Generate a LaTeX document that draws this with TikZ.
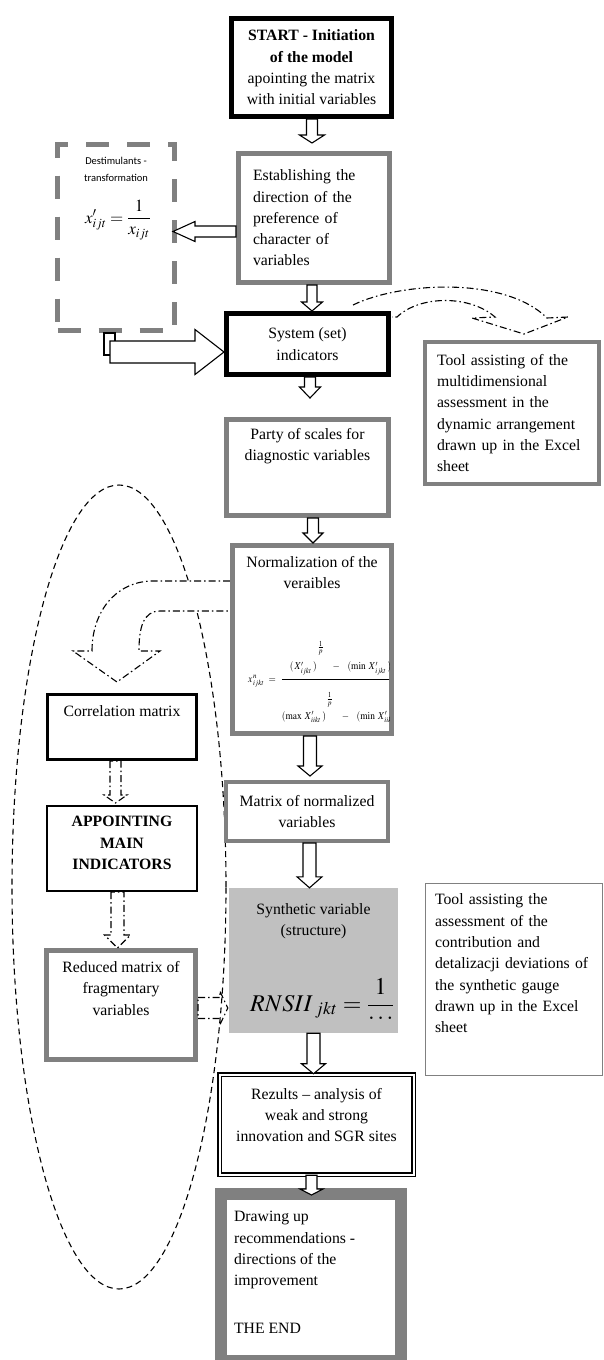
\documentclass[tikz,border=0pt]{standalone}
\usepackage{amsmath}
\usepackage{mathptmx}
\usepackage{fontspec}
\setmainfont{Liberation Serif}
\newfontfamily\calibri{Carlito}
\usetikzlibrary{calc,positioning}

\definecolor{boxgray}{RGB}{128,128,128}
\definecolor{synthgray}{RGB}{192,192,192}

% hollow block arrows between two anchors
\newcommand{\arrdown}[6][hollow]{\draw[#1] let \p1=(#2), \p2=(#3) in
  (\x1-#4,\y1) -- (\x1-#4,\y2+#6) -- (\x1-#5,\y2+#6) -- (\x1,\y2)
  -- (\x1+#5,\y2+#6) -- (\x1+#4,\y2+#6) -- (\x1+#4,\y1) -- cycle;}
\newcommand{\arrright}[6][hollow]{\draw[#1] let \p1=(#2), \p2=(#3) in
  (\x1,\y1+#4) -- (\x2-#6,\y1+#4) -- (\x2-#6,\y1+#5) -- (\x2,\y1)
  -- (\x2-#6,\y1-#5) -- (\x2-#6,\y1-#4) -- (\x1,\y1-#4) -- cycle;}
\newcommand{\arrleft}[6][hollow]{\draw[#1] let \p1=(#2), \p2=(#3) in
  (\x1,\y1+#4) -- (\x2+#6,\y1+#4) -- (\x2+#6,\y1+#5) -- (\x2,\y1)
  -- (\x2+#6,\y1-#5) -- (\x2+#6,\y1-#4) -- (\x1,\y1-#4) -- cycle;}
% raised exponents of the normalization formula
\newcommand{\rtn}{^{\raisebox{10pt}{$\frac{1}{p}$}}}
\newcommand{\rtd}{^{\raisebox{9pt}{$\frac{1}{p}$}}}

\tikzset{
  every node/.style={font=\fontsize{15.75pt}{21.3pt}\selectfont},
  box/.style={rectangle, fill=white, inner sep=0pt},
  blackbox/.style={box, draw=black},
  graybox/.style={box, draw=boxgray},
  hollow/.style={draw=black, fill=white, line width=1.1pt, line join=miter},
  dashdot/.style={draw=black, line width=1.1pt, dash pattern=on 7pt off 3pt on 1.5pt off 3pt},
  ovaldash/.style={draw=black, line width=1.1pt, dash pattern=on 6pt off 4pt},
}

\begin{document}
\begin{tikzpicture}[x=1pt,y=-1pt]
\useasboundingbox (0,0) rectangle (604,1360);

% loop round the reduction of variables
\draw[ovaldash] (119,887) ellipse [x radius=107pt, y radius=402pt];

% curved links
\draw[dashdot, fill=white] (353,305) .. controls (400,282) and (505,276) .. (547,318)
  -- (568,317) -- (524,334) -- (472,318) -- (495,317)
  .. controls (470,295) and (420,295) .. (397,317) -- (392,317);
\draw[dashdot, fill=white] (230,581) -- (150,581) .. controls (115,583) and (92,612) .. (92,651)
  -- (73,651) -- (117,682) -- (160,651) -- (139,651)
  .. controls (139,628) and (143,611) .. (160,611) -- (230,611);

% main column
\node[blackbox, line width=5pt, minimum width=160pt, minimum height=98pt, align=center] (start) at (311.5,67.5)
  {\textbf{START - Initiation}\\\textbf{of the model}\\apointing the matrix\\with initial variables};
\node[graybox, line width=5pt, minimum width=151pt, minimum height=129pt, text width=122pt, align=left] (est) at (314,218)
  {Establishing the\\direction of the\\preference of\\character of\\variables};
\node[box, draw=boxgray, line width=5pt, dash pattern=on 23pt off 18pt, minimum width=117pt, minimum height=186pt] (dest) at (116,237.5) {};
\node[font=\calibri\fontsize{10.5pt}{17pt}\selectfont, align=center, below=12pt of dest.north] (dest-t) {Destimulants -\\transformation};
\node[font=\fontsize{17pt}{20pt}\selectfont, inner sep=0pt] (dest-f) at (118,220) {$x^{\prime}_{ijt}=\dfrac{1}{x_{ijt}}$};
\node[blackbox, line width=5pt, minimum width=162pt, minimum height=61pt, align=center] (sys) at (307.5,344)
  {System (set)\\indicators};
\node[graybox, line width=4pt, minimum width=174pt, minimum height=142pt, text width=150pt, align=left] (tool1) at (512,413)
  {Tool assisting of the\\multidimensional\\assessment in the\\dynamic arrangement\\drawn up in the Excel\\sheet};
\node[graybox, line width=5pt, minimum width=162pt, minimum height=96pt] (party) at (307.5,467.5) {};
\node[align=center, below=8pt of party.north] (party-t) {Party of scales for\\diagnostic variables};
\node[graybox, line width=5pt, minimum width=159pt, minimum height=188pt] (norm) at (312,639.5) {};
\node[align=center, below=10pt of norm.north] (norm-t) {Normalization of the\\veraibles};
\begin{scope}
  \clip (norm.north west) rectangle ([xshift=-5pt]norm.south east);
  \node[font=\fontsize{6.5pt}{8pt}\selectfont, inner sep=0pt, anchor=base west] (norm-f) at (248,682)
    {\scalebox{1.45}[1.6]{$x^{\,n}_{\,ijkt}\;=\;\dfrac{\rule[-5pt]{0pt}{20pt}(\,X^{\prime}_{\,ijkt}\,)\rtn\;\;\;-\;\;\;(\min\;X^{\prime}_{\,ijkt}\,)\rtn}{\rule{0pt}{24pt}(\max\;X^{\prime}_{\,iikt}\,)\rtd\;\;\;-\;\;\;(\min\;X^{\prime}_{\,iikt}\,)\rtd}$}};
\end{scope}
\node[graybox, line width=4pt, minimum width=162pt, minimum height=59pt, align=center] (matrix) at (307,811.5)
  {Matrix of normalized\\variables};
\node[box, fill=synthgray, minimum width=169pt, minimum height=145pt] (synth) at (313.5,960.5) {};
\node[align=center, below=12pt of synth.north] (synth-t) {Synthetic variable\\(structure)};
\begin{scope}
  \clip (synth.north west) rectangle (synth.south east);
  \node[font=\fontsize{24pt}{28pt}\selectfont, inner sep=0pt, anchor=base west] (synth-f) at (250,1011)
    {$RNSII_{\;jkt}=\dfrac{1}{\raisebox{8pt}{$\ldots$}}$};
\end{scope}
\node[graybox, line width=1pt, minimum width=177pt, minimum height=192pt] (tool2) at (513.5,979) {};
\node[text width=158pt, align=left, below right=8pt and 7pt of tool2.north west] (tool2-t)
  {Tool assisting the\\assessment of the\\contribution and\\detalizacji deviations of\\the synthetic gauge\\drawn up in the Excel\\sheet};
\node[box, draw=black, line width=1.5pt, double=white, double distance=2pt, minimum width=194pt, minimum height=100pt] (rez) at (316.5,1124.5) {};
\node[align=center, below=11pt of rez.north] (rez-t) {Rezults -- analysis of\\weak and strong\\innovation and SGR sites};
\node[graybox, line width=12pt, minimum width=180pt, minimum height=167pt] (drawing) at (311,1277.5) {};
\node[align=left, below right=20pt and 15.5pt of drawing.north west] (drawing-t)
  {Drawing up\\recommendations -\\directions of the\\improvement\\[26pt]THE END};

% reduction column
\node[blackbox, line width=3pt, minimum width=149pt, minimum height=65pt] (corr) at (122,727) {};
\node[below=9pt of corr.north] (corr-t) {Correlation matrix};
\node[blackbox, line width=2pt, minimum width=150pt, minimum height=85pt] (app) at (122,848.5) {};
\node[align=center, font=\bfseries\fontsize{15.75pt}{21.3pt}\selectfont, below=8pt of app.north] (app-t)
  {APPOINTING\\MAIN\\INDICATORS};
\node[graybox, line width=5pt, minimum width=149pt, minimum height=109pt] (red) at (121,1005) {};
\node[align=center, below=10pt of red.north] (red-t) {Reduced matrix of\\fragmentary\\variables};

% block arrows
\arrdown{[xshift=0.5pt]start.south}{[yshift=8pt]est.north}{5.5pt}{12.5pt}{8pt}
\arrdown{[xshift=-2pt]est.south}{sys.north}{5pt}{10.5pt}{9pt}
\arrdown{[xshift=2.5pt]sys.south}{[yshift=19pt]party.north}{5.5pt}{10.5pt}{11pt}
\arrdown{[xshift=5.5pt]party.south}{norm.north}{5.5pt}{10pt}{10pt}
\arrdown{[xshift=-2pt]norm.south}{[yshift=4pt]matrix.north}{6.5pt}{12pt}{10pt}
\arrdown{[xshift=2.5pt]matrix.south}{synth.north}{6.5pt}{12.5pt}{11pt}
\arrdown{synth.south}{rez.north}{6.5pt}{12pt}{10pt}
\arrdown{[xshift=-5pt]rez.south}{[yshift=-7pt]drawing.north}{5.5pt}{11.5pt}{6pt}
\arrleft{[yshift=-13.5pt]est.west}{[xshift=-4pt]dest.east}{5.5pt}{10pt}{22pt}
\draw[hollow] ([xshift=-12pt]dest.south) rectangle ([xshift=-1pt,yshift=-22pt]dest.south);
\arrright{[xshift=-6pt,yshift=-19pt]dest.south}{sys.west}{11pt}{22.5pt}{29pt}
\arrdown[dashdot]{[xshift=-6.5pt]corr.south}{[yshift=2pt]app.north}{5.5pt}{11.5pt}{8pt}
\arrdown[dashdot]{[xshift=-4.5pt]app.south}{red.north}{6.5pt}{13pt}{13pt}
\arrright[dashdot]{[yshift=-3pt]red.east}{[xshift=-1pt]synth.west}{10.5pt}{17pt}{8pt}
\end{tikzpicture}
\end{document}
